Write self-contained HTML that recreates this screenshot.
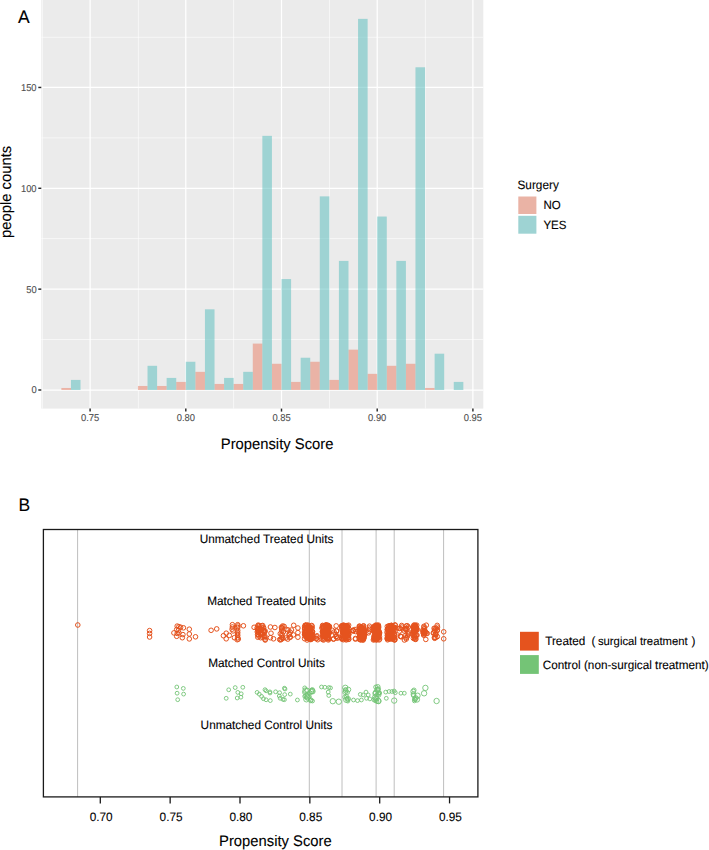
<!DOCTYPE html>
<html><head><meta charset="utf-8"><style>
html,body{margin:0;padding:0;background:#fff;width:709px;height:850px;overflow:hidden}
svg{display:block}
text{font-family:"Liberation Sans", sans-serif;text-rendering:geometricPrecision;stroke:currentColor;stroke-width:0.1px}
</style></head><body>
<svg width="709" height="850" viewBox="0 0 709 850">
<rect x="41.3" y="0.0" width="442.00" height="408.60" fill="#EBEBEB"/>
<line x1="42.40" y1="0.0" x2="42.40" y2="408.6" stroke="#fff" stroke-width="0.6"/>
<line x1="138.35" y1="0.0" x2="138.35" y2="408.6" stroke="#fff" stroke-width="0.6"/>
<line x1="233.60" y1="0.0" x2="233.60" y2="408.6" stroke="#fff" stroke-width="0.6"/>
<line x1="329.45" y1="0.0" x2="329.45" y2="408.6" stroke="#fff" stroke-width="0.6"/>
<line x1="425.35" y1="0.0" x2="425.35" y2="408.6" stroke="#fff" stroke-width="0.6"/>
<line x1="41.3" y1="339.50" x2="483.3" y2="339.50" stroke="#fff" stroke-width="0.6"/>
<line x1="41.3" y1="238.60" x2="483.3" y2="238.60" stroke="#fff" stroke-width="0.6"/>
<line x1="41.3" y1="137.90" x2="483.3" y2="137.90" stroke="#fff" stroke-width="0.6"/>
<line x1="41.3" y1="37.30" x2="483.3" y2="37.30" stroke="#fff" stroke-width="0.6"/>
<line x1="90.10" y1="0.0" x2="90.10" y2="408.6" stroke="#fff" stroke-width="1.25"/>
<line x1="185.80" y1="0.0" x2="185.80" y2="408.6" stroke="#fff" stroke-width="1.25"/>
<line x1="281.50" y1="0.0" x2="281.50" y2="408.6" stroke="#fff" stroke-width="1.25"/>
<line x1="377.20" y1="0.0" x2="377.20" y2="408.6" stroke="#fff" stroke-width="1.25"/>
<line x1="472.90" y1="0.0" x2="472.90" y2="408.6" stroke="#fff" stroke-width="1.25"/>
<line x1="41.3" y1="390.00" x2="483.3" y2="390.00" stroke="#fff" stroke-width="1.25"/>
<line x1="41.3" y1="289.15" x2="483.3" y2="289.15" stroke="#fff" stroke-width="1.25"/>
<line x1="41.3" y1="188.30" x2="483.3" y2="188.30" stroke="#fff" stroke-width="1.25"/>
<line x1="41.3" y1="87.45" x2="483.3" y2="87.45" stroke="#fff" stroke-width="1.25"/>
<rect x="61.39" y="387.98" width="9.57" height="2.02" fill="#E9856D" fill-opacity="0.55"/>
<rect x="137.95" y="385.97" width="9.57" height="4.03" fill="#E9856D" fill-opacity="0.55"/>
<rect x="157.09" y="385.97" width="9.57" height="4.03" fill="#E9856D" fill-opacity="0.55"/>
<rect x="176.23" y="381.93" width="9.57" height="8.07" fill="#E9856D" fill-opacity="0.55"/>
<rect x="195.37" y="371.85" width="9.57" height="18.15" fill="#E9856D" fill-opacity="0.55"/>
<rect x="214.51" y="383.95" width="9.57" height="6.05" fill="#E9856D" fill-opacity="0.55"/>
<rect x="233.65" y="383.95" width="9.57" height="6.05" fill="#E9856D" fill-opacity="0.55"/>
<rect x="252.79" y="343.61" width="9.57" height="46.39" fill="#E9856D" fill-opacity="0.55"/>
<rect x="271.93" y="363.78" width="9.57" height="26.22" fill="#E9856D" fill-opacity="0.55"/>
<rect x="291.07" y="381.93" width="9.57" height="8.07" fill="#E9856D" fill-opacity="0.55"/>
<rect x="310.21" y="361.76" width="9.57" height="28.24" fill="#E9856D" fill-opacity="0.55"/>
<rect x="329.35" y="379.92" width="9.57" height="10.08" fill="#E9856D" fill-opacity="0.55"/>
<rect x="348.49" y="349.66" width="9.57" height="40.34" fill="#E9856D" fill-opacity="0.55"/>
<rect x="367.63" y="373.86" width="9.57" height="16.14" fill="#E9856D" fill-opacity="0.55"/>
<rect x="386.77" y="365.80" width="9.57" height="24.20" fill="#E9856D" fill-opacity="0.55"/>
<rect x="405.91" y="363.78" width="9.57" height="26.22" fill="#E9856D" fill-opacity="0.55"/>
<rect x="425.05" y="387.98" width="9.57" height="2.02" fill="#E9856D" fill-opacity="0.55"/>
<rect x="70.96" y="379.92" width="9.57" height="10.08" fill="#5FBFBF" fill-opacity="0.55"/>
<rect x="147.52" y="365.80" width="9.57" height="24.20" fill="#5FBFBF" fill-opacity="0.55"/>
<rect x="166.66" y="377.90" width="9.57" height="12.10" fill="#5FBFBF" fill-opacity="0.55"/>
<rect x="185.80" y="361.76" width="9.57" height="28.24" fill="#5FBFBF" fill-opacity="0.55"/>
<rect x="204.94" y="309.32" width="9.57" height="80.68" fill="#5FBFBF" fill-opacity="0.55"/>
<rect x="224.08" y="377.90" width="9.57" height="12.10" fill="#5FBFBF" fill-opacity="0.55"/>
<rect x="243.22" y="371.85" width="9.57" height="18.15" fill="#5FBFBF" fill-opacity="0.55"/>
<rect x="262.36" y="135.86" width="9.57" height="254.14" fill="#5FBFBF" fill-opacity="0.55"/>
<rect x="281.50" y="279.06" width="9.57" height="110.94" fill="#5FBFBF" fill-opacity="0.55"/>
<rect x="300.64" y="357.73" width="9.57" height="32.27" fill="#5FBFBF" fill-opacity="0.55"/>
<rect x="319.78" y="196.37" width="9.57" height="193.63" fill="#5FBFBF" fill-opacity="0.55"/>
<rect x="338.92" y="260.91" width="9.57" height="129.09" fill="#5FBFBF" fill-opacity="0.55"/>
<rect x="358.06" y="18.87" width="9.57" height="371.13" fill="#5FBFBF" fill-opacity="0.55"/>
<rect x="377.20" y="216.54" width="9.57" height="173.46" fill="#5FBFBF" fill-opacity="0.55"/>
<rect x="396.34" y="260.91" width="9.57" height="129.09" fill="#5FBFBF" fill-opacity="0.55"/>
<rect x="415.48" y="67.28" width="9.57" height="322.72" fill="#5FBFBF" fill-opacity="0.55"/>
<rect x="434.62" y="353.69" width="9.57" height="36.31" fill="#5FBFBF" fill-opacity="0.55"/>
<rect x="453.76" y="381.93" width="9.57" height="8.07" fill="#5FBFBF" fill-opacity="0.55"/>
<line x1="90.10" y1="408.6" x2="90.10" y2="411.60" stroke="#2A2A2A" stroke-width="1.45"/>
<text transform="translate(90.10,420.80) scale(1.0,1.06)" font-size="9.4" fill="#4D4D4D" color="#4D4D4D" text-anchor="middle">0.75</text>
<line x1="185.80" y1="408.6" x2="185.80" y2="411.60" stroke="#2A2A2A" stroke-width="1.45"/>
<text transform="translate(185.80,420.80) scale(1.0,1.06)" font-size="9.4" fill="#4D4D4D" color="#4D4D4D" text-anchor="middle">0.80</text>
<line x1="281.50" y1="408.6" x2="281.50" y2="411.60" stroke="#2A2A2A" stroke-width="1.45"/>
<text transform="translate(281.50,420.80) scale(1.0,1.06)" font-size="9.4" fill="#4D4D4D" color="#4D4D4D" text-anchor="middle">0.85</text>
<line x1="377.20" y1="408.6" x2="377.20" y2="411.60" stroke="#2A2A2A" stroke-width="1.45"/>
<text transform="translate(377.20,420.80) scale(1.0,1.06)" font-size="9.4" fill="#4D4D4D" color="#4D4D4D" text-anchor="middle">0.90</text>
<line x1="472.90" y1="408.6" x2="472.90" y2="411.60" stroke="#2A2A2A" stroke-width="1.45"/>
<text transform="translate(472.90,420.80) scale(1.0,1.06)" font-size="9.4" fill="#4D4D4D" color="#4D4D4D" text-anchor="middle">0.95</text>
<line x1="38.30" y1="390.00" x2="41.3" y2="390.00" stroke="#2A2A2A" stroke-width="1.45"/>
<text transform="translate(36.60,393.40) scale(1.0,1.06)" font-size="9.4" fill="#4D4D4D" color="#4D4D4D" text-anchor="end">0</text>
<line x1="38.30" y1="289.15" x2="41.3" y2="289.15" stroke="#2A2A2A" stroke-width="1.45"/>
<text transform="translate(36.60,292.55) scale(1.0,1.06)" font-size="9.4" fill="#4D4D4D" color="#4D4D4D" text-anchor="end">50</text>
<line x1="38.30" y1="188.30" x2="41.3" y2="188.30" stroke="#2A2A2A" stroke-width="1.45"/>
<text transform="translate(36.60,191.70) scale(1.0,1.06)" font-size="9.4" fill="#4D4D4D" color="#4D4D4D" text-anchor="end">100</text>
<line x1="38.30" y1="87.45" x2="41.3" y2="87.45" stroke="#2A2A2A" stroke-width="1.45"/>
<text transform="translate(36.60,90.85) scale(1.0,1.06)" font-size="9.4" fill="#4D4D4D" color="#4D4D4D" text-anchor="end">150</text>
<text transform="translate(277.10,448.70) scale(1.0,1.03)" font-size="14.8" fill="#000" color="#000" text-anchor="middle">Propensity Score</text>
<text transform="translate(10.60,191.90) rotate(-90) scale(1.0,1.03)" font-size="14.8" fill="#000" color="#000" text-anchor="middle">people counts</text>
<text transform="translate(18.00,22.85) scale(1.0,1.03)" font-size="17.5" fill="#000" color="#000">A</text>
<text transform="translate(517.50,188.60) scale(1.0,1.03)" font-size="11.8" fill="#000" color="#000">Surgery</text>
<rect x="518.3" y="196.5" width="18.1" height="17.5" fill="#EAB3A5"/>
<rect x="518.3" y="215.8" width="18.1" height="17.9" fill="#9ED3D3"/>
<text transform="translate(543.40,209.10) scale(1.0,1.03)" font-size="11.5" fill="#000" color="#000">NO</text>
<text transform="translate(543.40,228.50) scale(1.0,1.03)" font-size="11.5" fill="#000" color="#000">YES</text>
<text transform="translate(18.60,510.70) scale(1.0,1.03)" font-size="17.5" fill="#000" color="#000">B</text>
<line x1="77.6" y1="529.5" x2="77.6" y2="796.9" stroke="#BEBEBE" stroke-width="1"/>
<line x1="309.3" y1="529.5" x2="309.3" y2="796.9" stroke="#BEBEBE" stroke-width="1"/>
<line x1="342.0" y1="529.5" x2="342.0" y2="796.9" stroke="#BEBEBE" stroke-width="1"/>
<line x1="376.1" y1="529.5" x2="376.1" y2="796.9" stroke="#BEBEBE" stroke-width="1"/>
<line x1="394.2" y1="529.5" x2="394.2" y2="796.9" stroke="#BEBEBE" stroke-width="1"/>
<line x1="443.6" y1="529.5" x2="443.6" y2="796.9" stroke="#BEBEBE" stroke-width="1"/>
<text transform="translate(266.50,543.10) scale(1.0,1.03)" font-size="11.8" fill="#000" color="#000" text-anchor="middle">Unmatched Treated Units</text>
<text transform="translate(266.50,605.10) scale(1.0,1.03)" font-size="11.8" fill="#000" color="#000" text-anchor="middle">Matched Treated Units</text>
<text transform="translate(266.50,667.40) scale(1.0,1.03)" font-size="11.8" fill="#000" color="#000" text-anchor="middle">Matched Control Units</text>
<text transform="translate(266.50,729.00) scale(1.0,1.03)" font-size="11.8" fill="#000" color="#000" text-anchor="middle">Unmatched Control Units</text>
<g fill="none" stroke="#E5531E" stroke-width="1.0">
<circle cx="77.8" cy="625.0" r="2.3"/>
<circle cx="149.6" cy="630.6" r="2.3"/>
<circle cx="149.6" cy="633.4" r="2.3"/>
<circle cx="149.6" cy="637.0" r="2.3"/>
<circle cx="177.2" cy="626.1" r="2.3"/>
<circle cx="178.9" cy="626.7" r="2.3"/>
<circle cx="180.6" cy="627.2" r="2.3"/>
<circle cx="183.4" cy="627.8" r="2.3"/>
<circle cx="176.7" cy="629.5" r="2.3"/>
<circle cx="178.4" cy="630.6" r="2.3"/>
<circle cx="173.9" cy="632.9" r="2.3"/>
<circle cx="177.2" cy="633.4" r="2.3"/>
<circle cx="178.9" cy="632.9" r="2.3"/>
<circle cx="182.9" cy="634.6" r="2.3"/>
<circle cx="176.7" cy="636.3" r="2.3"/>
<circle cx="182.3" cy="637.7" r="2.3"/>
<circle cx="189.3" cy="629.2" r="2.3"/>
<circle cx="189.3" cy="634.0" r="2.3"/>
<circle cx="189.3" cy="638.9" r="2.3"/>
<circle cx="195.5" cy="636.8" r="2.3"/>
<circle cx="211.1" cy="630.3" r="2.3"/>
<circle cx="216.7" cy="628.9" r="2.3"/>
<circle cx="223.4" cy="635.7" r="2.3"/>
<circle cx="226.2" cy="633.2" r="2.3"/>
<circle cx="229.3" cy="635.4" r="2.3"/>
<circle cx="226.2" cy="638.8" r="2.3"/>
<circle cx="232.4" cy="624.7" r="2.3"/>
<circle cx="232.4" cy="627.0" r="2.3"/>
<circle cx="232.1" cy="629.2" r="2.3"/>
<circle cx="233.0" cy="630.9" r="2.3"/>
<circle cx="234.4" cy="637.7" r="2.3"/>
<circle cx="237.7" cy="624.7" r="2.3"/>
<circle cx="237.7" cy="627.5" r="2.3"/>
<circle cx="237.7" cy="630.4" r="2.3"/>
<circle cx="237.7" cy="632.6" r="2.3"/>
<circle cx="237.7" cy="635.4" r="2.3"/>
<circle cx="237.7" cy="637.7" r="2.3"/>
<circle cx="238.3" cy="639.1" r="2.3"/>
<circle cx="237.2" cy="639.7" r="2.3"/>
<circle cx="237.9" cy="626.0" r="2.3"/>
<circle cx="237.5" cy="634.0" r="2.3"/>
<circle cx="243.4" cy="625.8" r="2.3"/>
<circle cx="254.1" cy="627.3" r="2.3"/>
<circle cx="270.4" cy="627.0" r="2.3"/>
<circle cx="274.9" cy="627.5" r="2.3"/>
<circle cx="271.0" cy="633.2" r="2.3"/>
<circle cx="273.5" cy="638.8" r="2.3"/>
<circle cx="270.4" cy="637.7" r="2.3"/>
<circle cx="293.7" cy="625.3" r="2.3"/>
<circle cx="293.4" cy="634.9" r="2.3"/>
<circle cx="297.9" cy="632.6" r="2.3"/>
<circle cx="297.9" cy="637.2" r="2.3"/>
<circle cx="297.9" cy="628.0" r="2.3"/>
<circle cx="291.5" cy="630.0" r="2.3"/>
<circle cx="443.7" cy="631.8" r="2.3"/>
<circle cx="443.7" cy="638.8" r="2.3"/>
<circle cx="260.8" cy="633.4" r="2.3"/>
<circle cx="264.6" cy="631.9" r="2.3"/>
<circle cx="261.2" cy="633.8" r="2.3"/>
<circle cx="258.6" cy="632.6" r="2.3"/>
<circle cx="262.2" cy="636.9" r="2.3"/>
<circle cx="257.8" cy="629.5" r="2.3"/>
<circle cx="257.8" cy="637.2" r="2.3"/>
<circle cx="262.7" cy="625.5" r="2.3"/>
<circle cx="265.1" cy="639.5" r="2.3"/>
<circle cx="262.4" cy="634.2" r="2.3"/>
<circle cx="258.3" cy="625.1" r="2.3"/>
<circle cx="261.4" cy="625.8" r="2.3"/>
<circle cx="258.6" cy="628.5" r="2.3"/>
<circle cx="257.3" cy="631.9" r="2.3"/>
<circle cx="260.7" cy="637.7" r="2.3"/>
<circle cx="261.3" cy="634.6" r="2.3"/>
<circle cx="261.1" cy="634.9" r="2.3"/>
<circle cx="260.8" cy="629.1" r="2.3"/>
<circle cx="265.2" cy="640.0" r="2.3"/>
<circle cx="263.9" cy="635.6" r="2.3"/>
<circle cx="259.6" cy="628.3" r="2.3"/>
<circle cx="259.4" cy="625.9" r="2.3"/>
<circle cx="263.3" cy="630.9" r="2.3"/>
<circle cx="264.0" cy="630.7" r="2.3"/>
<circle cx="264.9" cy="637.7" r="2.3"/>
<circle cx="257.1" cy="628.0" r="2.3"/>
<circle cx="264.5" cy="632.0" r="2.3"/>
<circle cx="265.1" cy="630.9" r="2.3"/>
<circle cx="257.6" cy="634.4" r="2.3"/>
<circle cx="263.4" cy="629.0" r="2.3"/>
<circle cx="257.8" cy="629.9" r="2.3"/>
<circle cx="265.0" cy="636.4" r="2.3"/>
<circle cx="258.0" cy="628.6" r="2.3"/>
<circle cx="257.9" cy="625.8" r="2.3"/>
<circle cx="263.6" cy="627.6" r="2.3"/>
<circle cx="261.6" cy="631.7" r="2.3"/>
<circle cx="258.6" cy="636.0" r="2.3"/>
<circle cx="258.1" cy="634.6" r="2.3"/>
<circle cx="258.0" cy="631.2" r="2.3"/>
<circle cx="258.8" cy="629.0" r="2.3"/>
<circle cx="290.4" cy="637.1" r="2.3"/>
<circle cx="282.7" cy="638.3" r="2.3"/>
<circle cx="281.7" cy="630.8" r="2.3"/>
<circle cx="289.1" cy="634.6" r="2.3"/>
<circle cx="280.4" cy="639.9" r="2.3"/>
<circle cx="281.7" cy="628.8" r="2.3"/>
<circle cx="288.1" cy="629.9" r="2.3"/>
<circle cx="282.7" cy="626.0" r="2.3"/>
<circle cx="280.3" cy="633.7" r="2.3"/>
<circle cx="282.0" cy="634.0" r="2.3"/>
<circle cx="283.5" cy="631.7" r="2.3"/>
<circle cx="290.3" cy="632.2" r="2.3"/>
<circle cx="285.9" cy="638.0" r="2.3"/>
<circle cx="281.4" cy="627.2" r="2.3"/>
<circle cx="289.7" cy="637.3" r="2.3"/>
<circle cx="282.1" cy="627.7" r="2.3"/>
<circle cx="287.8" cy="639.1" r="2.3"/>
<circle cx="281.5" cy="639.3" r="2.3"/>
<circle cx="289.4" cy="634.0" r="2.3"/>
<circle cx="284.1" cy="626.4" r="2.3"/>
<circle cx="279.7" cy="639.5" r="2.3"/>
<circle cx="282.0" cy="635.6" r="2.3"/>
<circle cx="282.2" cy="637.4" r="2.3"/>
<circle cx="286.1" cy="629.3" r="2.3"/>
<circle cx="305.9" cy="635.8" r="2.3"/>
<circle cx="305.0" cy="628.3" r="2.3"/>
<circle cx="309.1" cy="637.8" r="2.3"/>
<circle cx="309.5" cy="629.1" r="2.3"/>
<circle cx="312.1" cy="628.0" r="2.3"/>
<circle cx="304.6" cy="628.9" r="2.3"/>
<circle cx="308.1" cy="625.8" r="2.3"/>
<circle cx="305.9" cy="630.5" r="2.3"/>
<circle cx="309.2" cy="626.8" r="2.3"/>
<circle cx="307.5" cy="638.4" r="2.3"/>
<circle cx="312.6" cy="634.8" r="2.3"/>
<circle cx="310.2" cy="633.7" r="2.3"/>
<circle cx="305.6" cy="625.4" r="2.3"/>
<circle cx="304.6" cy="638.7" r="2.3"/>
<circle cx="310.3" cy="639.5" r="2.3"/>
<circle cx="304.6" cy="634.5" r="2.3"/>
<circle cx="308.5" cy="636.0" r="2.3"/>
<circle cx="307.1" cy="640.0" r="2.3"/>
<circle cx="305.1" cy="633.2" r="2.3"/>
<circle cx="310.6" cy="638.5" r="2.3"/>
<circle cx="310.6" cy="635.5" r="2.3"/>
<circle cx="311.0" cy="638.8" r="2.3"/>
<circle cx="307.4" cy="635.3" r="2.3"/>
<circle cx="311.9" cy="638.1" r="2.3"/>
<circle cx="307.9" cy="636.9" r="2.3"/>
<circle cx="311.6" cy="633.6" r="2.3"/>
<circle cx="309.6" cy="630.7" r="2.3"/>
<circle cx="309.3" cy="634.1" r="2.3"/>
<circle cx="305.1" cy="634.6" r="2.3"/>
<circle cx="312.7" cy="638.2" r="2.3"/>
<circle cx="310.5" cy="630.8" r="2.3"/>
<circle cx="310.6" cy="633.7" r="2.3"/>
<circle cx="308.1" cy="637.6" r="2.3"/>
<circle cx="305.1" cy="636.3" r="2.3"/>
<circle cx="304.7" cy="634.0" r="2.3"/>
<circle cx="308.4" cy="628.3" r="2.3"/>
<circle cx="310.2" cy="632.4" r="2.3"/>
<circle cx="309.6" cy="638.8" r="2.3"/>
<circle cx="306.6" cy="625.0" r="2.3"/>
<circle cx="306.9" cy="635.2" r="2.3"/>
<circle cx="306.1" cy="627.4" r="2.3"/>
<circle cx="312.0" cy="634.9" r="2.3"/>
<circle cx="308.1" cy="638.4" r="2.3"/>
<circle cx="307.2" cy="635.0" r="2.3"/>
<circle cx="306.1" cy="631.4" r="2.3"/>
<circle cx="311.1" cy="638.7" r="2.3"/>
<circle cx="311.8" cy="630.7" r="2.3"/>
<circle cx="309.3" cy="629.7" r="2.3"/>
<circle cx="305.6" cy="632.4" r="2.3"/>
<circle cx="311.4" cy="637.8" r="2.3"/>
<circle cx="310.4" cy="639.3" r="2.3"/>
<circle cx="306.7" cy="627.4" r="2.3"/>
<circle cx="308.2" cy="629.0" r="2.3"/>
<circle cx="306.2" cy="631.1" r="2.3"/>
<circle cx="309.6" cy="632.4" r="2.3"/>
<circle cx="307.1" cy="637.6" r="2.3"/>
<circle cx="312.6" cy="631.7" r="2.3"/>
<circle cx="305.1" cy="625.3" r="2.3"/>
<circle cx="311.7" cy="625.5" r="2.3"/>
<circle cx="310.3" cy="633.5" r="2.3"/>
<circle cx="307.0" cy="636.9" r="2.3"/>
<circle cx="304.6" cy="626.9" r="2.3"/>
<circle cx="308.2" cy="625.2" r="2.3"/>
<circle cx="311.3" cy="628.5" r="2.3"/>
<circle cx="305.6" cy="625.6" r="2.3"/>
<circle cx="309.7" cy="631.6" r="2.3"/>
<circle cx="309.7" cy="634.8" r="2.3"/>
<circle cx="311.2" cy="639.4" r="2.3"/>
<circle cx="310.1" cy="627.9" r="2.3"/>
<circle cx="308.4" cy="627.6" r="2.3"/>
<circle cx="304.5" cy="632.0" r="2.3"/>
<circle cx="310.4" cy="627.6" r="2.3"/>
<circle cx="306.7" cy="630.1" r="2.3"/>
<circle cx="310.2" cy="632.8" r="2.3"/>
<circle cx="309.5" cy="636.3" r="2.3"/>
<circle cx="307.7" cy="636.9" r="2.3"/>
<circle cx="312.0" cy="626.2" r="2.3"/>
<circle cx="312.2" cy="635.8" r="2.3"/>
<circle cx="305.5" cy="631.7" r="2.3"/>
<circle cx="309.6" cy="638.7" r="2.3"/>
<circle cx="307.6" cy="633.5" r="2.3"/>
<circle cx="311.7" cy="637.0" r="2.3"/>
<circle cx="312.3" cy="631.9" r="2.3"/>
<circle cx="309.9" cy="628.0" r="2.3"/>
<circle cx="310.4" cy="637.3" r="2.3"/>
<circle cx="317.0" cy="635.8" r="2.3"/>
<circle cx="316.2" cy="638.5" r="2.3"/>
<circle cx="317.7" cy="639.7" r="2.3"/>
<circle cx="316.8" cy="636.9" r="2.3"/>
<circle cx="316.4" cy="638.7" r="2.3"/>
<circle cx="328.4" cy="630.1" r="2.3"/>
<circle cx="322.4" cy="631.6" r="2.3"/>
<circle cx="326.0" cy="636.5" r="2.3"/>
<circle cx="325.6" cy="625.3" r="2.3"/>
<circle cx="328.1" cy="625.8" r="2.3"/>
<circle cx="328.0" cy="627.5" r="2.3"/>
<circle cx="324.4" cy="636.8" r="2.3"/>
<circle cx="322.8" cy="627.1" r="2.3"/>
<circle cx="325.8" cy="635.8" r="2.3"/>
<circle cx="328.3" cy="635.3" r="2.3"/>
<circle cx="329.1" cy="632.3" r="2.3"/>
<circle cx="329.2" cy="626.2" r="2.3"/>
<circle cx="323.5" cy="632.9" r="2.3"/>
<circle cx="324.0" cy="635.9" r="2.3"/>
<circle cx="326.7" cy="632.8" r="2.3"/>
<circle cx="328.3" cy="633.4" r="2.3"/>
<circle cx="324.2" cy="630.6" r="2.3"/>
<circle cx="328.3" cy="638.5" r="2.3"/>
<circle cx="323.4" cy="637.8" r="2.3"/>
<circle cx="329.3" cy="632.8" r="2.3"/>
<circle cx="326.2" cy="627.9" r="2.3"/>
<circle cx="325.9" cy="632.5" r="2.3"/>
<circle cx="326.5" cy="625.3" r="2.3"/>
<circle cx="329.3" cy="632.7" r="2.3"/>
<circle cx="324.9" cy="637.0" r="2.3"/>
<circle cx="326.1" cy="632.3" r="2.3"/>
<circle cx="327.1" cy="625.9" r="2.3"/>
<circle cx="326.0" cy="631.1" r="2.3"/>
<circle cx="329.2" cy="638.9" r="2.3"/>
<circle cx="323.8" cy="632.0" r="2.3"/>
<circle cx="322.7" cy="631.4" r="2.3"/>
<circle cx="328.1" cy="638.5" r="2.3"/>
<circle cx="325.5" cy="629.7" r="2.3"/>
<circle cx="323.2" cy="634.2" r="2.3"/>
<circle cx="329.0" cy="626.8" r="2.3"/>
<circle cx="327.8" cy="625.2" r="2.3"/>
<circle cx="323.3" cy="628.3" r="2.3"/>
<circle cx="327.1" cy="629.7" r="2.3"/>
<circle cx="324.5" cy="634.3" r="2.3"/>
<circle cx="322.6" cy="636.0" r="2.3"/>
<circle cx="322.7" cy="632.6" r="2.3"/>
<circle cx="323.7" cy="627.9" r="2.3"/>
<circle cx="325.9" cy="631.5" r="2.3"/>
<circle cx="324.7" cy="631.1" r="2.3"/>
<circle cx="325.9" cy="627.3" r="2.3"/>
<circle cx="323.3" cy="634.4" r="2.3"/>
<circle cx="326.7" cy="632.9" r="2.3"/>
<circle cx="328.4" cy="634.1" r="2.3"/>
<circle cx="328.4" cy="628.4" r="2.3"/>
<circle cx="327.5" cy="637.2" r="2.3"/>
<circle cx="328.8" cy="629.7" r="2.3"/>
<circle cx="324.2" cy="638.9" r="2.3"/>
<circle cx="323.5" cy="640.0" r="2.3"/>
<circle cx="328.7" cy="626.9" r="2.3"/>
<circle cx="323.6" cy="635.9" r="2.3"/>
<circle cx="323.8" cy="626.3" r="2.3"/>
<circle cx="328.2" cy="631.3" r="2.3"/>
<circle cx="327.9" cy="626.8" r="2.3"/>
<circle cx="324.9" cy="635.3" r="2.3"/>
<circle cx="321.9" cy="627.9" r="2.3"/>
<circle cx="327.1" cy="638.7" r="2.3"/>
<circle cx="329.3" cy="626.6" r="2.3"/>
<circle cx="325.7" cy="636.4" r="2.3"/>
<circle cx="325.7" cy="635.3" r="2.3"/>
<circle cx="323.2" cy="625.9" r="2.3"/>
<circle cx="322.6" cy="625.4" r="2.3"/>
<circle cx="326.1" cy="632.7" r="2.3"/>
<circle cx="326.2" cy="627.1" r="2.3"/>
<circle cx="323.2" cy="627.9" r="2.3"/>
<circle cx="328.3" cy="639.9" r="2.3"/>
<circle cx="329.0" cy="626.3" r="2.3"/>
<circle cx="322.2" cy="639.3" r="2.3"/>
<circle cx="325.4" cy="636.5" r="2.3"/>
<circle cx="324.3" cy="631.9" r="2.3"/>
<circle cx="325.8" cy="631.4" r="2.3"/>
<circle cx="326.4" cy="625.1" r="2.3"/>
<circle cx="327.2" cy="637.7" r="2.3"/>
<circle cx="323.2" cy="631.8" r="2.3"/>
<circle cx="327.5" cy="631.0" r="2.3"/>
<circle cx="323.3" cy="627.4" r="2.3"/>
<circle cx="325.7" cy="625.1" r="2.3"/>
<circle cx="328.7" cy="637.0" r="2.3"/>
<circle cx="327.2" cy="637.9" r="2.3"/>
<circle cx="326.7" cy="631.0" r="2.3"/>
<circle cx="326.4" cy="632.5" r="2.3"/>
<circle cx="337.7" cy="637.1" r="2.3"/>
<circle cx="333.7" cy="638.7" r="2.3"/>
<circle cx="336.3" cy="636.7" r="2.3"/>
<circle cx="336.7" cy="631.0" r="2.3"/>
<circle cx="337.2" cy="638.2" r="2.3"/>
<circle cx="336.1" cy="636.5" r="2.3"/>
<circle cx="336.5" cy="631.0" r="2.3"/>
<circle cx="336.2" cy="625.9" r="2.3"/>
<circle cx="334.1" cy="632.0" r="2.3"/>
<circle cx="332.3" cy="630.3" r="2.3"/>
<circle cx="335.8" cy="634.3" r="2.3"/>
<circle cx="333.5" cy="639.2" r="2.3"/>
<circle cx="346.3" cy="630.0" r="2.3"/>
<circle cx="346.3" cy="633.5" r="2.3"/>
<circle cx="345.3" cy="630.8" r="2.3"/>
<circle cx="348.7" cy="634.6" r="2.3"/>
<circle cx="346.6" cy="636.4" r="2.3"/>
<circle cx="348.6" cy="625.2" r="2.3"/>
<circle cx="345.9" cy="636.1" r="2.3"/>
<circle cx="343.3" cy="631.0" r="2.3"/>
<circle cx="341.8" cy="627.8" r="2.3"/>
<circle cx="344.2" cy="626.3" r="2.3"/>
<circle cx="343.3" cy="638.6" r="2.3"/>
<circle cx="345.5" cy="632.6" r="2.3"/>
<circle cx="348.5" cy="633.5" r="2.3"/>
<circle cx="348.7" cy="634.5" r="2.3"/>
<circle cx="347.4" cy="626.0" r="2.3"/>
<circle cx="345.8" cy="636.4" r="2.3"/>
<circle cx="341.8" cy="639.0" r="2.3"/>
<circle cx="342.6" cy="632.0" r="2.3"/>
<circle cx="342.7" cy="632.4" r="2.3"/>
<circle cx="345.9" cy="625.7" r="2.3"/>
<circle cx="348.4" cy="631.2" r="2.3"/>
<circle cx="345.3" cy="633.9" r="2.3"/>
<circle cx="344.1" cy="629.2" r="2.3"/>
<circle cx="346.2" cy="633.4" r="2.3"/>
<circle cx="343.5" cy="635.7" r="2.3"/>
<circle cx="343.6" cy="625.1" r="2.3"/>
<circle cx="343.2" cy="625.5" r="2.3"/>
<circle cx="342.6" cy="636.3" r="2.3"/>
<circle cx="344.3" cy="638.5" r="2.3"/>
<circle cx="346.9" cy="625.6" r="2.3"/>
<circle cx="348.7" cy="639.2" r="2.3"/>
<circle cx="342.0" cy="638.6" r="2.3"/>
<circle cx="344.6" cy="632.1" r="2.3"/>
<circle cx="348.6" cy="628.6" r="2.3"/>
<circle cx="345.3" cy="639.1" r="2.3"/>
<circle cx="346.7" cy="632.0" r="2.3"/>
<circle cx="348.6" cy="637.3" r="2.3"/>
<circle cx="345.9" cy="626.6" r="2.3"/>
<circle cx="346.0" cy="631.8" r="2.3"/>
<circle cx="342.9" cy="625.6" r="2.3"/>
<circle cx="345.3" cy="626.7" r="2.3"/>
<circle cx="344.7" cy="635.0" r="2.3"/>
<circle cx="344.8" cy="628.8" r="2.3"/>
<circle cx="345.7" cy="631.2" r="2.3"/>
<circle cx="347.1" cy="632.9" r="2.3"/>
<circle cx="348.7" cy="639.3" r="2.3"/>
<circle cx="346.8" cy="628.5" r="2.3"/>
<circle cx="342.3" cy="638.4" r="2.3"/>
<circle cx="347.2" cy="634.3" r="2.3"/>
<circle cx="344.1" cy="629.0" r="2.3"/>
<circle cx="346.5" cy="633.4" r="2.3"/>
<circle cx="345.8" cy="634.5" r="2.3"/>
<circle cx="346.9" cy="627.7" r="2.3"/>
<circle cx="343.3" cy="639.7" r="2.3"/>
<circle cx="348.1" cy="638.2" r="2.3"/>
<circle cx="341.7" cy="625.8" r="2.3"/>
<circle cx="343.4" cy="631.3" r="2.3"/>
<circle cx="346.0" cy="626.4" r="2.3"/>
<circle cx="345.4" cy="626.0" r="2.3"/>
<circle cx="342.1" cy="635.1" r="2.3"/>
<circle cx="345.5" cy="634.4" r="2.3"/>
<circle cx="344.2" cy="632.1" r="2.3"/>
<circle cx="343.0" cy="630.1" r="2.3"/>
<circle cx="346.9" cy="637.6" r="2.3"/>
<circle cx="342.0" cy="626.7" r="2.3"/>
<circle cx="347.4" cy="634.3" r="2.3"/>
<circle cx="347.1" cy="628.1" r="2.3"/>
<circle cx="344.5" cy="628.8" r="2.3"/>
<circle cx="347.4" cy="630.5" r="2.3"/>
<circle cx="346.2" cy="639.9" r="2.3"/>
<circle cx="343.8" cy="633.2" r="2.3"/>
<circle cx="346.9" cy="638.8" r="2.3"/>
<circle cx="344.6" cy="630.5" r="2.3"/>
<circle cx="342.2" cy="638.2" r="2.3"/>
<circle cx="342.0" cy="626.1" r="2.3"/>
<circle cx="345.6" cy="632.2" r="2.3"/>
<circle cx="346.5" cy="629.4" r="2.3"/>
<circle cx="347.1" cy="626.0" r="2.3"/>
<circle cx="343.0" cy="634.9" r="2.3"/>
<circle cx="342.0" cy="629.5" r="2.3"/>
<circle cx="346.7" cy="635.4" r="2.3"/>
<circle cx="343.5" cy="627.0" r="2.3"/>
<circle cx="344.1" cy="635.9" r="2.3"/>
<circle cx="344.1" cy="626.6" r="2.3"/>
<circle cx="346.6" cy="633.5" r="2.3"/>
<circle cx="355.4" cy="639.1" r="2.3"/>
<circle cx="355.4" cy="631.5" r="2.3"/>
<circle cx="355.0" cy="629.5" r="2.3"/>
<circle cx="353.0" cy="630.9" r="2.3"/>
<circle cx="355.5" cy="638.4" r="2.3"/>
<circle cx="352.7" cy="630.3" r="2.3"/>
<circle cx="353.2" cy="630.4" r="2.3"/>
<circle cx="353.3" cy="630.7" r="2.3"/>
<circle cx="360.2" cy="633.4" r="2.3"/>
<circle cx="363.6" cy="633.1" r="2.3"/>
<circle cx="363.8" cy="633.4" r="2.3"/>
<circle cx="360.1" cy="636.4" r="2.3"/>
<circle cx="364.1" cy="629.1" r="2.3"/>
<circle cx="359.2" cy="632.7" r="2.3"/>
<circle cx="362.2" cy="633.5" r="2.3"/>
<circle cx="364.6" cy="634.7" r="2.3"/>
<circle cx="363.6" cy="625.8" r="2.3"/>
<circle cx="362.2" cy="636.8" r="2.3"/>
<circle cx="359.5" cy="626.1" r="2.3"/>
<circle cx="363.3" cy="638.5" r="2.3"/>
<circle cx="359.5" cy="634.5" r="2.3"/>
<circle cx="359.9" cy="636.2" r="2.3"/>
<circle cx="362.7" cy="628.6" r="2.3"/>
<circle cx="360.3" cy="636.5" r="2.3"/>
<circle cx="362.0" cy="636.5" r="2.3"/>
<circle cx="361.3" cy="630.0" r="2.3"/>
<circle cx="364.6" cy="635.1" r="2.3"/>
<circle cx="361.9" cy="633.0" r="2.3"/>
<circle cx="363.2" cy="635.6" r="2.3"/>
<circle cx="364.3" cy="631.1" r="2.3"/>
<circle cx="363.8" cy="635.0" r="2.3"/>
<circle cx="363.9" cy="637.1" r="2.3"/>
<circle cx="363.8" cy="638.4" r="2.3"/>
<circle cx="364.5" cy="634.6" r="2.3"/>
<circle cx="362.0" cy="635.6" r="2.3"/>
<circle cx="363.6" cy="631.3" r="2.3"/>
<circle cx="361.4" cy="627.1" r="2.3"/>
<circle cx="363.3" cy="639.9" r="2.3"/>
<circle cx="361.2" cy="627.4" r="2.3"/>
<circle cx="360.2" cy="631.3" r="2.3"/>
<circle cx="360.7" cy="639.6" r="2.3"/>
<circle cx="359.4" cy="629.5" r="2.3"/>
<circle cx="359.7" cy="634.7" r="2.3"/>
<circle cx="363.5" cy="627.6" r="2.3"/>
<circle cx="359.4" cy="631.8" r="2.3"/>
<circle cx="362.4" cy="638.7" r="2.3"/>
<circle cx="359.3" cy="626.5" r="2.3"/>
<circle cx="360.1" cy="628.2" r="2.3"/>
<circle cx="360.4" cy="635.8" r="2.3"/>
<circle cx="362.4" cy="628.3" r="2.3"/>
<circle cx="360.1" cy="629.1" r="2.3"/>
<circle cx="360.0" cy="636.4" r="2.3"/>
<circle cx="360.8" cy="633.2" r="2.3"/>
<circle cx="363.7" cy="632.1" r="2.3"/>
<circle cx="360.5" cy="638.3" r="2.3"/>
<circle cx="364.3" cy="630.0" r="2.3"/>
<circle cx="362.2" cy="639.4" r="2.3"/>
<circle cx="361.8" cy="628.2" r="2.3"/>
<circle cx="359.3" cy="639.3" r="2.3"/>
<circle cx="363.6" cy="630.7" r="2.3"/>
<circle cx="362.1" cy="632.7" r="2.3"/>
<circle cx="360.6" cy="639.9" r="2.3"/>
<circle cx="362.8" cy="628.5" r="2.3"/>
<circle cx="359.1" cy="632.0" r="2.3"/>
<circle cx="361.2" cy="637.0" r="2.3"/>
<circle cx="363.1" cy="634.1" r="2.3"/>
<circle cx="359.9" cy="627.2" r="2.3"/>
<circle cx="360.9" cy="628.8" r="2.3"/>
<circle cx="364.0" cy="632.7" r="2.3"/>
<circle cx="362.7" cy="639.9" r="2.3"/>
<circle cx="360.6" cy="633.0" r="2.3"/>
<circle cx="359.9" cy="636.6" r="2.3"/>
<circle cx="359.1" cy="637.3" r="2.3"/>
<circle cx="363.9" cy="637.3" r="2.3"/>
<circle cx="359.5" cy="629.0" r="2.3"/>
<circle cx="363.1" cy="626.3" r="2.3"/>
<circle cx="361.8" cy="632.0" r="2.3"/>
<circle cx="364.5" cy="633.8" r="2.3"/>
<circle cx="369.4" cy="629.5" r="2.3"/>
<circle cx="369.2" cy="631.2" r="2.3"/>
<circle cx="369.5" cy="626.2" r="2.3"/>
<circle cx="369.3" cy="628.0" r="2.3"/>
<circle cx="368.6" cy="632.8" r="2.3"/>
<circle cx="374.3" cy="637.5" r="2.3"/>
<circle cx="375.3" cy="629.6" r="2.3"/>
<circle cx="373.8" cy="629.5" r="2.3"/>
<circle cx="376.3" cy="635.7" r="2.3"/>
<circle cx="375.6" cy="635.3" r="2.3"/>
<circle cx="374.0" cy="630.8" r="2.3"/>
<circle cx="376.3" cy="639.5" r="2.3"/>
<circle cx="378.6" cy="634.8" r="2.3"/>
<circle cx="373.4" cy="630.6" r="2.3"/>
<circle cx="377.8" cy="628.5" r="2.3"/>
<circle cx="376.9" cy="631.8" r="2.3"/>
<circle cx="373.4" cy="639.9" r="2.3"/>
<circle cx="378.4" cy="628.0" r="2.3"/>
<circle cx="377.2" cy="629.3" r="2.3"/>
<circle cx="375.7" cy="633.1" r="2.3"/>
<circle cx="375.2" cy="630.0" r="2.3"/>
<circle cx="375.8" cy="635.0" r="2.3"/>
<circle cx="375.0" cy="627.9" r="2.3"/>
<circle cx="378.0" cy="629.9" r="2.3"/>
<circle cx="379.3" cy="633.4" r="2.3"/>
<circle cx="377.9" cy="629.9" r="2.3"/>
<circle cx="378.6" cy="626.3" r="2.3"/>
<circle cx="374.2" cy="626.3" r="2.3"/>
<circle cx="377.6" cy="635.6" r="2.3"/>
<circle cx="374.5" cy="631.0" r="2.3"/>
<circle cx="378.6" cy="633.9" r="2.3"/>
<circle cx="373.9" cy="628.3" r="2.3"/>
<circle cx="374.3" cy="626.7" r="2.3"/>
<circle cx="375.9" cy="626.0" r="2.3"/>
<circle cx="379.1" cy="631.3" r="2.3"/>
<circle cx="376.6" cy="634.7" r="2.3"/>
<circle cx="378.2" cy="637.3" r="2.3"/>
<circle cx="375.8" cy="629.9" r="2.3"/>
<circle cx="375.9" cy="625.1" r="2.3"/>
<circle cx="375.9" cy="635.5" r="2.3"/>
<circle cx="379.5" cy="636.9" r="2.3"/>
<circle cx="377.5" cy="634.1" r="2.3"/>
<circle cx="373.5" cy="629.9" r="2.3"/>
<circle cx="375.5" cy="634.7" r="2.3"/>
<circle cx="374.0" cy="630.6" r="2.3"/>
<circle cx="376.6" cy="636.8" r="2.3"/>
<circle cx="378.5" cy="634.1" r="2.3"/>
<circle cx="374.3" cy="636.5" r="2.3"/>
<circle cx="379.0" cy="633.2" r="2.3"/>
<circle cx="375.6" cy="632.5" r="2.3"/>
<circle cx="374.2" cy="635.7" r="2.3"/>
<circle cx="379.6" cy="632.7" r="2.3"/>
<circle cx="377.9" cy="637.5" r="2.3"/>
<circle cx="374.6" cy="639.2" r="2.3"/>
<circle cx="377.3" cy="627.9" r="2.3"/>
<circle cx="373.9" cy="628.6" r="2.3"/>
<circle cx="377.0" cy="635.4" r="2.3"/>
<circle cx="375.4" cy="639.0" r="2.3"/>
<circle cx="375.6" cy="631.9" r="2.3"/>
<circle cx="374.1" cy="639.6" r="2.3"/>
<circle cx="374.2" cy="638.6" r="2.3"/>
<circle cx="376.8" cy="633.4" r="2.3"/>
<circle cx="376.9" cy="628.9" r="2.3"/>
<circle cx="379.1" cy="639.9" r="2.3"/>
<circle cx="378.5" cy="634.0" r="2.3"/>
<circle cx="374.1" cy="637.4" r="2.3"/>
<circle cx="375.2" cy="638.5" r="2.3"/>
<circle cx="374.9" cy="633.6" r="2.3"/>
<circle cx="378.6" cy="627.7" r="2.3"/>
<circle cx="376.8" cy="626.0" r="2.3"/>
<circle cx="373.6" cy="627.6" r="2.3"/>
<circle cx="379.6" cy="639.1" r="2.3"/>
<circle cx="377.5" cy="629.5" r="2.3"/>
<circle cx="377.6" cy="636.1" r="2.3"/>
<circle cx="375.8" cy="633.8" r="2.3"/>
<circle cx="378.4" cy="625.1" r="2.3"/>
<circle cx="374.6" cy="632.0" r="2.3"/>
<circle cx="374.3" cy="630.7" r="2.3"/>
<circle cx="376.9" cy="627.5" r="2.3"/>
<circle cx="376.6" cy="628.9" r="2.3"/>
<circle cx="376.9" cy="629.9" r="2.3"/>
<circle cx="377.4" cy="625.4" r="2.3"/>
<circle cx="377.6" cy="627.1" r="2.3"/>
<circle cx="379.4" cy="634.0" r="2.3"/>
<circle cx="376.3" cy="631.1" r="2.3"/>
<circle cx="377.3" cy="635.3" r="2.3"/>
<circle cx="378.1" cy="636.3" r="2.3"/>
<circle cx="376.4" cy="640.0" r="2.3"/>
<circle cx="378.6" cy="637.8" r="2.3"/>
<circle cx="375.9" cy="631.4" r="2.3"/>
<circle cx="376.9" cy="638.6" r="2.3"/>
<circle cx="376.7" cy="632.8" r="2.3"/>
<circle cx="376.1" cy="638.6" r="2.3"/>
<circle cx="375.4" cy="625.7" r="2.3"/>
<circle cx="377.9" cy="638.5" r="2.3"/>
<circle cx="378.0" cy="633.9" r="2.3"/>
<circle cx="378.1" cy="629.5" r="2.3"/>
<circle cx="377.1" cy="625.9" r="2.3"/>
<circle cx="374.1" cy="631.6" r="2.3"/>
<circle cx="376.5" cy="630.9" r="2.3"/>
<circle cx="387.3" cy="635.4" r="2.3"/>
<circle cx="391.4" cy="628.5" r="2.3"/>
<circle cx="389.5" cy="630.9" r="2.3"/>
<circle cx="388.9" cy="625.9" r="2.3"/>
<circle cx="394.7" cy="639.5" r="2.3"/>
<circle cx="392.6" cy="638.0" r="2.3"/>
<circle cx="390.5" cy="637.1" r="2.3"/>
<circle cx="388.8" cy="636.2" r="2.3"/>
<circle cx="391.7" cy="638.6" r="2.3"/>
<circle cx="387.7" cy="636.9" r="2.3"/>
<circle cx="387.9" cy="633.0" r="2.3"/>
<circle cx="395.0" cy="624.9" r="2.3"/>
<circle cx="388.9" cy="629.4" r="2.3"/>
<circle cx="389.6" cy="625.8" r="2.3"/>
<circle cx="394.5" cy="637.2" r="2.3"/>
<circle cx="390.3" cy="630.3" r="2.3"/>
<circle cx="391.9" cy="625.5" r="2.3"/>
<circle cx="387.1" cy="638.5" r="2.3"/>
<circle cx="389.5" cy="632.4" r="2.3"/>
<circle cx="394.9" cy="639.7" r="2.3"/>
<circle cx="390.9" cy="628.0" r="2.3"/>
<circle cx="389.4" cy="638.9" r="2.3"/>
<circle cx="394.6" cy="627.8" r="2.3"/>
<circle cx="394.1" cy="630.2" r="2.3"/>
<circle cx="390.9" cy="627.5" r="2.3"/>
<circle cx="394.4" cy="640.0" r="2.3"/>
<circle cx="388.6" cy="634.5" r="2.3"/>
<circle cx="388.5" cy="638.2" r="2.3"/>
<circle cx="387.3" cy="626.5" r="2.3"/>
<circle cx="393.1" cy="629.6" r="2.3"/>
<circle cx="394.6" cy="638.1" r="2.3"/>
<circle cx="393.0" cy="626.9" r="2.3"/>
<circle cx="392.8" cy="639.1" r="2.3"/>
<circle cx="390.7" cy="626.1" r="2.3"/>
<circle cx="388.8" cy="629.5" r="2.3"/>
<circle cx="393.0" cy="627.8" r="2.3"/>
<circle cx="388.4" cy="628.4" r="2.3"/>
<circle cx="392.6" cy="636.9" r="2.3"/>
<circle cx="390.1" cy="634.9" r="2.3"/>
<circle cx="394.5" cy="633.8" r="2.3"/>
<circle cx="388.8" cy="629.4" r="2.3"/>
<circle cx="394.8" cy="635.0" r="2.3"/>
<circle cx="389.2" cy="634.6" r="2.3"/>
<circle cx="387.6" cy="639.8" r="2.3"/>
<circle cx="390.6" cy="632.9" r="2.3"/>
<circle cx="391.4" cy="625.5" r="2.3"/>
<circle cx="392.0" cy="629.2" r="2.3"/>
<circle cx="389.0" cy="637.1" r="2.3"/>
<circle cx="387.6" cy="629.2" r="2.3"/>
<circle cx="393.3" cy="628.6" r="2.3"/>
<circle cx="389.3" cy="633.2" r="2.3"/>
<circle cx="388.5" cy="638.5" r="2.3"/>
<circle cx="395.3" cy="625.4" r="2.3"/>
<circle cx="390.8" cy="636.3" r="2.3"/>
<circle cx="390.2" cy="639.0" r="2.3"/>
<circle cx="391.1" cy="627.6" r="2.3"/>
<circle cx="391.6" cy="634.7" r="2.3"/>
<circle cx="389.9" cy="634.9" r="2.3"/>
<circle cx="393.6" cy="632.7" r="2.3"/>
<circle cx="391.2" cy="637.7" r="2.3"/>
<circle cx="392.7" cy="632.8" r="2.3"/>
<circle cx="395.0" cy="627.5" r="2.3"/>
<circle cx="393.6" cy="627.4" r="2.3"/>
<circle cx="392.1" cy="628.4" r="2.3"/>
<circle cx="390.6" cy="636.6" r="2.3"/>
<circle cx="393.6" cy="636.9" r="2.3"/>
<circle cx="388.9" cy="632.3" r="2.3"/>
<circle cx="388.8" cy="633.7" r="2.3"/>
<circle cx="391.1" cy="625.4" r="2.3"/>
<circle cx="392.0" cy="635.7" r="2.3"/>
<circle cx="391.8" cy="638.1" r="2.3"/>
<circle cx="388.4" cy="627.2" r="2.3"/>
<circle cx="387.0" cy="632.4" r="2.3"/>
<circle cx="390.6" cy="631.6" r="2.3"/>
<circle cx="389.1" cy="637.0" r="2.3"/>
<circle cx="387.5" cy="638.6" r="2.3"/>
<circle cx="391.7" cy="633.1" r="2.3"/>
<circle cx="393.7" cy="628.5" r="2.3"/>
<circle cx="388.1" cy="629.6" r="2.3"/>
<circle cx="387.2" cy="629.6" r="2.3"/>
<circle cx="392.2" cy="632.8" r="2.3"/>
<circle cx="389.1" cy="633.8" r="2.3"/>
<circle cx="387.6" cy="637.3" r="2.3"/>
<circle cx="388.3" cy="628.7" r="2.3"/>
<circle cx="388.2" cy="635.3" r="2.3"/>
<circle cx="401.3" cy="636.8" r="2.3"/>
<circle cx="399.4" cy="631.1" r="2.3"/>
<circle cx="400.2" cy="628.1" r="2.3"/>
<circle cx="401.7" cy="625.5" r="2.3"/>
<circle cx="400.5" cy="636.4" r="2.3"/>
<circle cx="401.7" cy="627.0" r="2.3"/>
<circle cx="400.4" cy="636.2" r="2.3"/>
<circle cx="399.3" cy="628.5" r="2.3"/>
<circle cx="408.3" cy="627.0" r="2.3"/>
<circle cx="406.0" cy="629.4" r="2.3"/>
<circle cx="406.2" cy="626.0" r="2.3"/>
<circle cx="404.4" cy="640.0" r="2.3"/>
<circle cx="407.7" cy="636.0" r="2.3"/>
<circle cx="405.3" cy="628.7" r="2.3"/>
<circle cx="406.7" cy="628.5" r="2.3"/>
<circle cx="406.3" cy="639.0" r="2.3"/>
<circle cx="405.9" cy="630.0" r="2.3"/>
<circle cx="408.7" cy="634.1" r="2.3"/>
<circle cx="404.4" cy="631.0" r="2.3"/>
<circle cx="407.2" cy="625.7" r="2.3"/>
<circle cx="405.8" cy="635.4" r="2.3"/>
<circle cx="408.1" cy="633.8" r="2.3"/>
<circle cx="408.2" cy="631.9" r="2.3"/>
<circle cx="406.0" cy="637.7" r="2.3"/>
<circle cx="414.6" cy="636.7" r="2.3"/>
<circle cx="413.9" cy="630.1" r="2.3"/>
<circle cx="413.8" cy="633.2" r="2.3"/>
<circle cx="413.7" cy="627.9" r="2.3"/>
<circle cx="413.9" cy="632.0" r="2.3"/>
<circle cx="414.3" cy="631.6" r="2.3"/>
<circle cx="417.0" cy="635.2" r="2.3"/>
<circle cx="416.5" cy="628.0" r="2.3"/>
<circle cx="414.6" cy="626.0" r="2.3"/>
<circle cx="415.8" cy="630.4" r="2.3"/>
<circle cx="414.1" cy="625.1" r="2.3"/>
<circle cx="413.8" cy="628.8" r="2.3"/>
<circle cx="414.6" cy="638.9" r="2.3"/>
<circle cx="415.9" cy="628.9" r="2.3"/>
<circle cx="414.5" cy="627.2" r="2.3"/>
<circle cx="416.8" cy="630.3" r="2.3"/>
<circle cx="416.1" cy="635.8" r="2.3"/>
<circle cx="416.7" cy="625.2" r="2.3"/>
<circle cx="414.3" cy="630.7" r="2.3"/>
<circle cx="413.4" cy="638.3" r="2.3"/>
<circle cx="414.4" cy="636.6" r="2.3"/>
<circle cx="415.1" cy="625.7" r="2.3"/>
<circle cx="414.6" cy="628.5" r="2.3"/>
<circle cx="413.2" cy="627.1" r="2.3"/>
<circle cx="415.4" cy="625.3" r="2.3"/>
<circle cx="414.3" cy="631.3" r="2.3"/>
<circle cx="415.2" cy="626.9" r="2.3"/>
<circle cx="415.9" cy="628.8" r="2.3"/>
<circle cx="416.0" cy="635.0" r="2.3"/>
<circle cx="413.6" cy="628.0" r="2.3"/>
<circle cx="414.2" cy="635.7" r="2.3"/>
<circle cx="414.7" cy="630.7" r="2.3"/>
<circle cx="416.5" cy="628.3" r="2.3"/>
<circle cx="414.2" cy="630.1" r="2.3"/>
<circle cx="413.9" cy="625.5" r="2.3"/>
<circle cx="413.1" cy="634.4" r="2.3"/>
<circle cx="415.3" cy="637.1" r="2.3"/>
<circle cx="417.0" cy="629.4" r="2.3"/>
<circle cx="415.7" cy="638.8" r="2.3"/>
<circle cx="413.9" cy="635.3" r="2.3"/>
<circle cx="415.7" cy="639.4" r="2.3"/>
<circle cx="416.5" cy="628.4" r="2.3"/>
<circle cx="415.6" cy="626.2" r="2.3"/>
<circle cx="414.8" cy="630.8" r="2.3"/>
<circle cx="413.3" cy="630.7" r="2.3"/>
<circle cx="424.4" cy="632.4" r="2.3"/>
<circle cx="424.1" cy="627.3" r="2.3"/>
<circle cx="424.8" cy="632.1" r="2.3"/>
<circle cx="423.6" cy="635.0" r="2.3"/>
<circle cx="423.9" cy="626.3" r="2.3"/>
<circle cx="424.5" cy="631.3" r="2.3"/>
<circle cx="423.5" cy="633.7" r="2.3"/>
<circle cx="426.3" cy="633.3" r="2.3"/>
<circle cx="426.3" cy="625.2" r="2.3"/>
<circle cx="424.7" cy="630.4" r="2.3"/>
<circle cx="423.1" cy="631.0" r="2.3"/>
<circle cx="423.0" cy="632.4" r="2.3"/>
<circle cx="425.7" cy="632.0" r="2.3"/>
<circle cx="424.4" cy="628.7" r="2.3"/>
<circle cx="422.9" cy="630.1" r="2.3"/>
<circle cx="427.2" cy="633.4" r="2.3"/>
<circle cx="424.1" cy="635.0" r="2.3"/>
<circle cx="423.7" cy="632.0" r="2.3"/>
<circle cx="425.8" cy="639.4" r="2.3"/>
<circle cx="424.6" cy="633.6" r="2.3"/>
<circle cx="437.3" cy="636.6" r="2.3"/>
<circle cx="435.9" cy="634.3" r="2.3"/>
<circle cx="435.0" cy="631.2" r="2.3"/>
<circle cx="434.4" cy="637.5" r="2.3"/>
<circle cx="437.0" cy="630.7" r="2.3"/>
<circle cx="437.2" cy="625.4" r="2.3"/>
<circle cx="433.8" cy="632.6" r="2.3"/>
<circle cx="434.6" cy="630.3" r="2.3"/>
<circle cx="437.5" cy="627.1" r="2.3"/>
<circle cx="434.1" cy="628.3" r="2.3"/>
<circle cx="436.2" cy="628.4" r="2.3"/>
<circle cx="433.3" cy="633.1" r="2.3"/>
<circle cx="434.9" cy="628.5" r="2.3"/>
<circle cx="435.4" cy="634.7" r="2.3"/>
<circle cx="435.6" cy="634.3" r="2.3"/>
<circle cx="435.7" cy="637.5" r="2.3"/>
<circle cx="437.4" cy="629.9" r="2.3"/>
<circle cx="434.7" cy="638.3" r="2.3"/>
</g>
<g fill="none" stroke="#74C476" stroke-width="0.9">
<circle cx="176.8" cy="687.0" r="1.9"/>
<circle cx="183.3" cy="688.4" r="1.9"/>
<circle cx="177.1" cy="693.2" r="1.9"/>
<circle cx="183.6" cy="694.1" r="1.9"/>
<circle cx="177.7" cy="699.7" r="1.9"/>
<circle cx="228.7" cy="689.8" r="1.9"/>
<circle cx="235.2" cy="687.6" r="1.9"/>
<circle cx="242.8" cy="687.3" r="1.9"/>
<circle cx="237.8" cy="692.4" r="1.9"/>
<circle cx="241.2" cy="693.8" r="1.9"/>
<circle cx="226.2" cy="698.3" r="1.9"/>
<circle cx="237.2" cy="698.0" r="1.9"/>
<circle cx="240.9" cy="697.2" r="1.9"/>
<circle cx="257.1" cy="692.4" r="1.9"/>
<circle cx="259.3" cy="694.2" r="1.9"/>
<circle cx="261.6" cy="696.4" r="1.9"/>
<circle cx="265.0" cy="689.7" r="1.9"/>
<circle cx="266.1" cy="690.8" r="1.9"/>
<circle cx="269.9" cy="691.9" r="1.9"/>
<circle cx="263.4" cy="698.7" r="1.9"/>
<circle cx="266.1" cy="699.8" r="1.9"/>
<circle cx="270.3" cy="700.6" r="1.9"/>
<circle cx="270.0" cy="693.0" r="1.9"/>
<circle cx="275.6" cy="691.8" r="1.9"/>
<circle cx="279.6" cy="692.7" r="1.9"/>
<circle cx="279.3" cy="696.0" r="1.9"/>
<circle cx="280.2" cy="698.3" r="1.9"/>
<circle cx="284.4" cy="688.2" r="1.9"/>
<circle cx="285.0" cy="689.0" r="1.9"/>
<circle cx="284.7" cy="694.6" r="1.9"/>
<circle cx="284.4" cy="699.7" r="1.9"/>
<circle cx="283.0" cy="699.4" r="1.9"/>
<circle cx="290.3" cy="694.1" r="1.9"/>
<circle cx="297.4" cy="700.0" r="1.9"/>
<circle cx="304.7" cy="687.9" r="1.9"/>
<circle cx="304.4" cy="692.4" r="1.9"/>
<circle cx="304.7" cy="696.3" r="1.9"/>
<circle cx="321.5" cy="687.0" r="1.9"/>
<circle cx="324.9" cy="687.3" r="1.9"/>
<circle cx="328.8" cy="687.6" r="1.9"/>
<circle cx="330.5" cy="687.9" r="1.9"/>
<circle cx="328.2" cy="692.1" r="1.9"/>
<circle cx="328.8" cy="695.5" r="1.9"/>
<circle cx="353.5" cy="700.0" r="1.9"/>
<circle cx="357.5" cy="700.6" r="1.9"/>
<circle cx="360.3" cy="694.4" r="1.9"/>
<circle cx="361.4" cy="700.0" r="1.9"/>
<circle cx="363.1" cy="694.9" r="1.9"/>
<circle cx="366.0" cy="692.1" r="1.9"/>
<circle cx="366.5" cy="698.3" r="1.9"/>
<circle cx="369.9" cy="698.9" r="1.9"/>
<circle cx="368.2" cy="694.9" r="1.9"/>
<circle cx="385.7" cy="692.1" r="1.9"/>
<circle cx="386.3" cy="698.3" r="1.9"/>
<circle cx="389.1" cy="691.5" r="1.9"/>
<circle cx="391.9" cy="691.5" r="1.9"/>
<circle cx="394.2" cy="691.0" r="1.9"/>
<circle cx="395.3" cy="692.7" r="1.9"/>
<circle cx="400.9" cy="693.2" r="1.9"/>
<circle cx="404.3" cy="693.2" r="1.9"/>
<circle cx="307.7" cy="697.1" r="2.7"/>
<circle cx="310.8" cy="700.7" r="2.1"/>
<circle cx="306.4" cy="695.8" r="2.7"/>
<circle cx="311.8" cy="691.0" r="2.7"/>
<circle cx="307.4" cy="697.6" r="2.7"/>
<circle cx="307.0" cy="690.4" r="2.4"/>
<circle cx="311.0" cy="700.0" r="2.1"/>
<circle cx="312.5" cy="701.0" r="1.9"/>
<circle cx="312.5" cy="691.3" r="2.7"/>
<circle cx="309.4" cy="696.6" r="1.9"/>
<circle cx="306.4" cy="699.3" r="2.7"/>
<circle cx="305.5" cy="690.5" r="2.7"/>
<circle cx="307.2" cy="695.9" r="2.4"/>
<circle cx="311.1" cy="691.5" r="2.4"/>
<circle cx="312.3" cy="689.7" r="2.1"/>
<circle cx="309.8" cy="692.9" r="2.1"/>
<circle cx="347.3" cy="698.8" r="2.1"/>
<circle cx="345.1" cy="692.2" r="2.4"/>
<circle cx="345.5" cy="689.5" r="1.9"/>
<circle cx="346.6" cy="696.8" r="2.1"/>
<circle cx="345.7" cy="690.7" r="2.4"/>
<circle cx="347.3" cy="692.5" r="2.1"/>
<circle cx="344.7" cy="697.1" r="1.9"/>
<circle cx="348.4" cy="689.6" r="2.4"/>
<circle cx="347.8" cy="701.1" r="1.9"/>
<circle cx="346.3" cy="699.8" r="2.7"/>
<circle cx="345.3" cy="687.8" r="2.7"/>
<circle cx="348.1" cy="698.9" r="2.4"/>
<circle cx="375.2" cy="697.2" r="2.7"/>
<circle cx="378.2" cy="700.9" r="2.7"/>
<circle cx="377.7" cy="689.9" r="2.4"/>
<circle cx="378.4" cy="688.9" r="2.1"/>
<circle cx="378.6" cy="694.8" r="2.4"/>
<circle cx="378.8" cy="693.0" r="2.1"/>
<circle cx="375.8" cy="687.1" r="2.1"/>
<circle cx="375.5" cy="692.6" r="2.4"/>
<circle cx="375.3" cy="693.7" r="2.4"/>
<circle cx="377.0" cy="694.8" r="2.1"/>
<circle cx="374.4" cy="699.7" r="2.4"/>
<circle cx="377.7" cy="686.9" r="2.4"/>
<circle cx="376.7" cy="701.2" r="2.1"/>
<circle cx="379.5" cy="692.7" r="1.9"/>
<circle cx="376.3" cy="698.4" r="2.7"/>
<circle cx="377.1" cy="689.9" r="2.4"/>
<circle cx="375.5" cy="700.3" r="2.1"/>
<circle cx="379.5" cy="693.2" r="1.9"/>
<circle cx="414.0" cy="690.1" r="2.1"/>
<circle cx="415.7" cy="698.0" r="2.4"/>
<circle cx="414.9" cy="699.0" r="2.4"/>
<circle cx="413.5" cy="695.5" r="2.1"/>
<circle cx="413.5" cy="694.2" r="2.4"/>
<circle cx="416.9" cy="699.5" r="2.7"/>
<circle cx="415.0" cy="699.6" r="1.9"/>
<circle cx="417.5" cy="695.7" r="2.7"/>
<circle cx="414.4" cy="700.9" r="1.9"/>
<circle cx="413.2" cy="691.5" r="2.4"/>
<circle cx="332.8" cy="701.2" r="2.7"/>
<circle cx="338.8" cy="701.7" r="2.7"/>
<circle cx="378.4" cy="701.1" r="2.7"/>
<circle cx="394.2" cy="700.6" r="2.7"/>
<circle cx="436.6" cy="701.0" r="2.7"/>
<circle cx="425.4" cy="687.9" r="2.7"/>
<circle cx="424.1" cy="693.3" r="2.7"/>
</g>
<rect x="43.4" y="529.5" width="434.50" height="267.40" fill="none" stroke="#1A1A1A" stroke-width="1.3"/>
<line x1="100.30" y1="796.9" x2="100.30" y2="803.4" stroke="#1A1A1A" stroke-width="1.3"/>
<text transform="translate(101.20,820.80) scale(1.0,1.03)" font-size="11.8" fill="#000" color="#000" text-anchor="middle">0.70</text>
<line x1="170.15" y1="796.9" x2="170.15" y2="803.4" stroke="#1A1A1A" stroke-width="1.3"/>
<text transform="translate(171.05,820.80) scale(1.0,1.03)" font-size="11.8" fill="#000" color="#000" text-anchor="middle">0.75</text>
<line x1="240.00" y1="796.9" x2="240.00" y2="803.4" stroke="#1A1A1A" stroke-width="1.3"/>
<text transform="translate(240.90,820.80) scale(1.0,1.03)" font-size="11.8" fill="#000" color="#000" text-anchor="middle">0.80</text>
<line x1="309.85" y1="796.9" x2="309.85" y2="803.4" stroke="#1A1A1A" stroke-width="1.3"/>
<text transform="translate(310.75,820.80) scale(1.0,1.03)" font-size="11.8" fill="#000" color="#000" text-anchor="middle">0.85</text>
<line x1="379.70" y1="796.9" x2="379.70" y2="803.4" stroke="#1A1A1A" stroke-width="1.3"/>
<text transform="translate(380.60,820.80) scale(1.0,1.03)" font-size="11.8" fill="#000" color="#000" text-anchor="middle">0.90</text>
<line x1="449.55" y1="796.9" x2="449.55" y2="803.4" stroke="#1A1A1A" stroke-width="1.3"/>
<text transform="translate(450.45,820.80) scale(1.0,1.03)" font-size="11.8" fill="#000" color="#000" text-anchor="middle">0.95</text>
<text transform="translate(275.40,846.00) scale(1.0,1.03)" font-size="14.8" fill="#000" color="#000" text-anchor="middle">Propensity Score</text>
<rect x="520" y="631.8" width="18.8" height="18.8" fill="#E5531E"/>
<rect x="520" y="655.1" width="18.8" height="18.8" fill="#74C476"/>
<text transform="translate(545.20,644.80) scale(1.0,1.03)" font-size="11.75" fill="#000" color="#000">Treated</text>
<text transform="translate(591.40,644.80) scale(1.0,1.03)" font-size="11.75" fill="#000" color="#000">(</text>
<text transform="translate(597.90,644.80) scale(1.0,1.03)" font-size="11.3" fill="#000" color="#000">surgical treatment</text>
<text transform="translate(691.60,644.80) scale(1.0,1.03)" font-size="11.75" fill="#000" color="#000">)</text>
<text transform="translate(542.80,669.20) scale(1.0,1.03)" font-size="11.75" fill="#000" color="#000">Control (non-surgical treatment)</text>
</svg>
</body></html>
